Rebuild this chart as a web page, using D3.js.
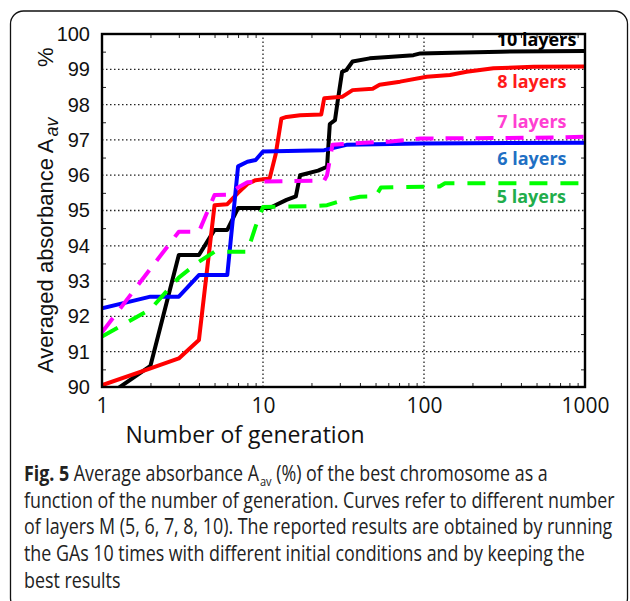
<!DOCTYPE html>
<html>
<head>
<meta charset="utf-8">
<script src="https://cdn.jsdelivr.net/npm/d3@7"></script>
<style>
  body { margin: 0; background: #fff; }
  svg { display: block; }
</style>
</head>
<body>
<div id="chart"></div>
<script>
// generation -> best average absorbance (%)
var layers10 = [[1,89.65],[2,90.6],[3,93.74],[4,93.74],[5,94.45],[6,94.45],[7,95.07],[11,95.07],[14,95.3],[16,95.4],[17,96.0],[22,96.13],[25,96.24],[26,97.45],[28,97.56],[29,98.05],[31,98.93],[33,98.98],[36,99.22],[46,99.31],[60,99.35],[86,99.4],[95,99.45],[150,99.47],[300,99.5],[1000,99.52]];
var layers8 = [[1,90.05],[2,90.53],[3,90.81],[4,91.33],[5,95.15],[6,95.18],[7,95.5],[8,95.75],[9,95.86],[11,95.91],[12,96.6],[13,97.6],[14,97.65],[17,97.7],[23,97.72],[24,98.18],[31,98.22],[36,98.41],[48,98.45],[53,98.56],[71,98.65],[104,98.79],[145,98.84],[184,98.93],[270,99.03],[480,99.07],[1000,99.08]];
var layers7 = [[1,91.55],[2,93.35],[3,94.4],[4,94.4],[5,95.44],[6,95.45],[7,95.65],[8,95.8],[10,95.82],[24,95.85],[25,96.0],[27,96.86],[35,96.9],[60,96.95],[95,97.04],[500,97.06],[1000,97.09]];
var layers6 = [[1,92.23],[2,92.56],[3,92.56],[4,93.17],[5,93.17],[6,93.17],[7,96.25],[8,96.38],[9,96.43],[10,96.67],[24,96.71],[33,96.86],[95,96.9],[1000,96.92]];
var layers5 = [[1,91.43],[2,92.2],[3,93.1],[4,93.55],[5,93.83],[8,93.83],[9,94.55],[10,95.1],[19,95.12],[25,95.15],[32,95.3],[40,95.39],[50,95.4],[54,95.65],[125,95.68],[135,95.77],[1000,95.77]];

var xTicks = [1, 10, 100, 1000];
var yTicks = [90, 91, 92, 93, 94, 95, 96, 97, 98, 99, 100];

// label text, label position (generation, value)
var seriesNames = ['10 layers', '8 layers', '7 layers', '6 layers', '5 layers'];
var labelPos = [[283,99.66],[285,98.47],[285,97.34],[285,96.29],[283,95.21]];

var captionLines = [
  'function of the number of generation. Curves refer to different number',
  'of layers M (5, 6, 7, 8, 10). The reported results are obtained by running',
  'the GAs 10 times with different initial conditions and by keeping the',
  'best results'
];

var W = 630, H = 601;
var svg = d3.select("#chart").append("svg").attr("width", W).attr("height", H);

// outer rounded frame
svg.append("rect").attr("x", 10.5).attr("y", 11).attr("width", 617).attr("height", 600)
  .attr("rx", 13).attr("fill", "none").attr("stroke", "#111").attr("stroke-width", 1.3);

var x = d3.scaleLog().domain([1, 1000]).range([102, 585]);
var y = d3.scaleLinear().domain([90, 100]).range([387, 34]);

var g = svg.append("g");

// dotted grid
g.selectAll(".hgrid").data(yTicks.slice(1, -1)).enter().append("line")
  .attr("x1", x(1)).attr("x2", x(1000)).attr("y1", d => y(d)).attr("y2", d => y(d))
  .attr("stroke", "#222").attr("stroke-width", 1.3).attr("stroke-dasharray", "1.5,2.5");
g.selectAll(".vgrid").data([10, 100]).enter().append("line")
  .attr("x1", d => x(d)).attr("x2", d => x(d)).attr("y1", y(90)).attr("y2", y(100))
  .attr("stroke", "#222").attr("stroke-width", 1.3).attr("stroke-dasharray", "1.5,2.5");

// minor ticks (inward)
var minorX = [];
[1, 10, 100].forEach(function(dec){ for (var k = 2; k < 10; k++) minorX.push(dec * k); });
var minorY = d3.range(90.5, 100, 1);

function inward(axis, tx, ty) {
  g.append("g").attr("transform", "translate(" + tx + "," + ty + ")").call(axis)
    .call(s => s.select(".domain").remove())
    .call(s => s.selectAll("line").attr("stroke", "#222").attr("stroke-width", 1));
}
inward(d3.axisBottom(x).tickValues(minorX).tickSize(-4).tickFormat(""), 0, y(90));
inward(d3.axisTop(x).tickValues(minorX).tickSize(-4).tickFormat(""), 0, y(100));
inward(d3.axisLeft(y).tickValues(minorY).tickSize(-4).tickFormat(""), x(1), 0);
inward(d3.axisRight(y).tickValues(minorY).tickSize(-4).tickFormat(""), x(1000), 0);

// clip curves to the plot box
svg.append("clipPath").attr("id", "plotclip").append("rect")
  .attr("x", x(1)).attr("y", y(100)).attr("width", x(1000) - x(1)).attr("height", y(90) - y(100));

var line = d3.line().x(d => x(d[0])).y(d => y(d[1]));
var curves = [
  {data: layers10, color: "#000000", dash: null},
  {data: layers8, color: "#ff0000", dash: null},
  {data: layers6, color: "#0000ff", dash: null},
  {data: layers7, color: "#ff00ff", dash: "18,12"},
  {data: layers5, color: "#00ff00", dash: "18,13"}
];
var cg = svg.append("g").attr("clip-path", "url(#plotclip)");
cg.selectAll("path").data(curves).enter().append("path")
  .attr("d", d => line(d.data))
  .attr("fill", "none")
  .attr("stroke", d => d.color)
  .attr("stroke-width", 4)
  .attr("stroke-linejoin", "round")
  .attr("stroke-dasharray", d => d.dash);

// plot box
svg.append("rect").attr("x", x(1)).attr("y", y(100))
  .attr("width", x(1000) - x(1)).attr("height", y(90) - y(100))
  .attr("fill", "none").attr("stroke", "#000").attr("stroke-width", 2.4);

// tick labels
var yAx = svg.append("g").attr("transform", "translate(" + x(1) + ",0)")
  .call(d3.axisLeft(y).tickValues(yTicks).tickSize(0).tickPadding(12).tickFormat(d3.format("d")));
yAx.select(".domain").remove();
yAx.selectAll("text").attr("font-family", "'Liberation Sans', Arial, sans-serif")
  .attr("font-size", 20).attr("fill", "#111");

var xAx = svg.append("g").attr("transform", "translate(0," + y(90) + ")")
  .call(d3.axisBottom(x).tickValues(xTicks).tickSize(0).tickPadding(11).tickFormat(d3.format("d")));
xAx.select(".domain").remove();
xAx.selectAll("text").attr("font-family", "'Open Sans', sans-serif")
  .attr("font-size", 21).attr("fill", "#111");

// axis titles
svg.append("text").attr("x", 245).attr("y", 443).attr("text-anchor", "middle")
  .attr("font-family", "'Open Sans', sans-serif").attr("font-size", 23).attr("fill", "#111")
  .text("Number of generation");

var yt = svg.append("text").attr("transform", "translate(53,373) rotate(-90)")
  .attr("font-family", "'Liberation Sans', Arial, sans-serif").attr("font-size", 22).attr("fill", "#111");
yt.append("tspan").text("Averaged absorbance A");
yt.append("tspan").attr("font-size", 18).attr("dx", 2).attr("dy", 5)
  .attr("font-style", "italic").text("av");
yt.append("tspan").attr("x", 306).attr("dy", -5).text("%");

// series labels
var labelColors = ["#000000", "#ff1a1a", "#ff3fd2", "#1f70c4", "#21ad4b"];
svg.selectAll(".lbl").data(seriesNames).enter().append("text")
  .attr("x", (d, i) => x(labelPos[i][0]))
  .attr("y", (d, i) => y(labelPos[i][1]))
  .attr("font-family", "'Open Sans', sans-serif").attr("font-size", 18).attr("font-weight", "bold")
  .attr("fill", (d, i) => labelColors[i])
  .text(d => d);

// caption, squeezed horizontally (one factor, taken from the widest line)
var capFont = "'Open Sans', sans-serif";
var capX = 24, capY = [481, 507.7, 534.4, 561, 587.5];

var caps = [];
var c0 = svg.append("text").attr("font-family", capFont).attr("font-size", 21).attr("fill", "#222");
c0.append("tspan").attr("font-weight", "bold").text("Fig. 5");
c0.append("tspan").text(" Average absorbance A");
c0.append("tspan").attr("font-size", 13).attr("dx", 1).attr("dy", 5).text("av");
c0.append("tspan").attr("dy", -5).text(" (%) of the best chromosome as a");
caps.push(c0);

captionLines.forEach(function(s) {
  caps.push(svg.append("text").attr("font-family", capFont).attr("font-size", 21).attr("fill", "#222").text(s));
});

var squeeze = (615 - capX) / caps[1].node().getComputedTextLength();
caps.forEach(function(t, i) {
  t.attr("transform", "translate(" + capX + "," + capY[i] + ") scale(" + squeeze + ",1)");
});
</script>
</body>
</html>
